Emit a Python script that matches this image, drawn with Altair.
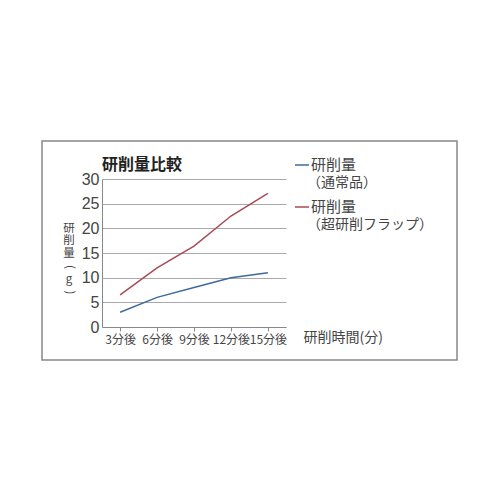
import altair as alt
import pandas as pd

times = ["3分後", "6分後", "9分後", "12分後", "15分後"]
normal = [3, 6, 8, 10, 11]
flap = [6.5, 12, 16.4, 22.5, 27.1]
series_names = ["研削量（通常品）", "研削量（超研削フラップ）"]
legend_line1 = ["研削量", "研削量"]
legend_line2 = ["（通常品）", "（超研削フラップ）"]
colors = ["#3f6a9c", "#a94a57"]
y_ticks = [0, 5, 10, 15, 20, 25, 30]
chart_title = ["研削量比較"]
y_title_chars = ["研", "削", "量", "(", "g", ")"]
y_title_rotated = [False, False, False, True, False, True]

FONT = "Noto Sans CJK JP"

rows = []
for t, a, b in zip(times, normal, flap):
    rows.append({"time": t, "series": series_names[0], "value": a})
    rows.append({"time": t, "series": series_names[1], "value": b})
df = pd.DataFrame(rows)

W, H = 184, 148

x_enc = alt.X(
    "time:N",
    sort=times,
    scale=alt.Scale(type="point", padding=0.49),
    axis=alt.Axis(
        title="研削時間(分)",
        titleFont=FONT,
        titleFontSize=14,
        titleFontWeight="normal",
        titleColor="#444",
        titleX=201,
        titleY=10,
        titleAlign="left",
        titleBaseline="middle",
        labelFont=FONT,
        labelFontSize=12,
        labelColor="#444",
        labelAngle=0,
        labelPadding=3,
        labelOverlap=False,
        tickSize=4,
        tickColor="#888",
        domainColor="#888",
        grid=False,
    ),
)
y_enc = alt.Y(
    "value:Q",
    scale=alt.Scale(domain=[0, 30], nice=False),
    axis=alt.Axis(
        values=y_ticks,
        title=None,
        labelFont="Liberation Sans",
        labelFontSize=16,
        labelColor="#444",
        labelPadding=3,
        ticks=False,
        domainColor="#888",
        gridColor="#aaa",
        gridWidth=1,
    ),
)

lines = alt.Chart(df).mark_line(strokeWidth=1.5).encode(
    x=x_enc,
    y=y_enc,
    color=alt.Color("series:N", scale=alt.Scale(domain=series_names, range=colors), legend=None),
)

# vertical y-axis title, one character per row
yt_df = pd.DataFrame({
    "ch": y_title_chars,
    "rot": y_title_rotated,
    "row": list(range(len(y_title_chars))),
})
yt_base = alt.Chart(yt_df).transform_calculate(
    py="49.5 + datum.row * 12.8"
)
yt_plain = yt_base.transform_filter("!datum.rot").mark_text(
    align="center", baseline="middle", font=FONT, fontSize=11.5, color="#444"
).encode(
    x=alt.value(-33),
    y=alt.Y("py:Q", scale=None),
    text="ch:N",
)
yt_rot = yt_base.transform_filter("datum.rot").mark_text(
    align="center", baseline="middle", font=FONT, fontSize=11.5, color="#444", angle=90
).encode(
    x=alt.value(-33),
    y=alt.Y("py:Q", scale=None),
    text="ch:N",
)

leg_df = pd.DataFrame({
    "series": series_names,
    "l1": legend_line1,
    "l2": legend_line2,
    "ypos": [-14, 28],
})

leg_rule = alt.Chart(leg_df).mark_rule(strokeWidth=1.5).encode(
    x=alt.value(193),
    x2=alt.value(207),
    y=alt.Y("ypos:Q", scale=None),
    color=alt.Color("series:N", scale=alt.Scale(domain=series_names, range=colors), legend=None),
)
leg_t1 = alt.Chart(leg_df).mark_text(
    align="left", baseline="middle", font=FONT, fontSize=15, color="#444"
).encode(
    x=alt.value(209),
    y=alt.Y("ypos:Q", scale=None),
    text="l1:N",
)
leg_t2 = alt.Chart(leg_df).mark_text(
    align="left", baseline="middle", font=FONT, fontSize=14, color="#444", dy=18
).encode(
    x=alt.value(205),
    y=alt.Y("ypos:Q", scale=None),
    text="l2:N",
)

title_mark = alt.Chart(pd.DataFrame({"t": chart_title})).mark_text(
    align="left", baseline="middle", font=FONT, fontSize=16, fontWeight="bold", color="#222"
).encode(
    x=alt.value(0),
    y=alt.value(-14),
    text="t:N",
)

border = alt.Chart(pd.DataFrame({"k": [0]})).mark_rect(
    fillOpacity=0, stroke="#888", strokeWidth=1.5
).encode(
    x=alt.value(-60), x2=alt.value(355), y=alt.value(-38), y2=alt.value(181)
)

chart = alt.layer(
    border, lines, yt_plain, yt_rot, leg_rule, leg_t1, leg_t2, title_mark
).properties(
    width=W,
    height=H,
    autosize=alt.AutoSizeParams(type="none"),
    padding={"left": 94, "top": 171, "right": 206, "bottom": 165},
).configure_view(stroke=None)

chart.save("out.html", embed_options={"renderer": "svg", "actions": False})
